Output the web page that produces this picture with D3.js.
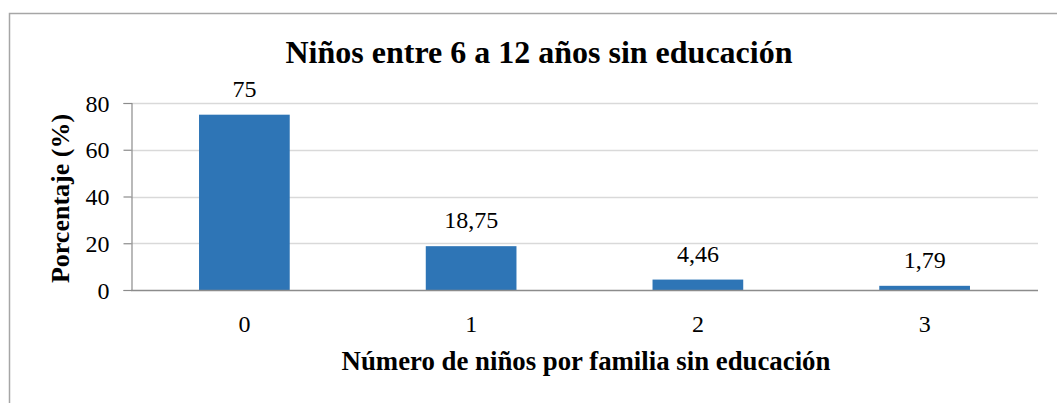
<!DOCTYPE html>
<html>
<head>
<meta charset="utf-8">
<script src="https://cdn.jsdelivr.net/npm/d3@7"></script>
<style>
  html, body { margin: 0; padding: 0; background: #fff; }
  svg { display: block; }
  text { font-family: "Liberation Serif", "Times New Roman", serif; fill: #000; }
</style>
</head>
<body>
<svg id="chart" width="1057" height="403"></svg>
<script>
// Porcentaje de familias según el número de niños (6 a 12 años) sin educación
const categories = ["0", "1", "2", "3"];
const values = [75, 18.75, 4.46, 1.79];
const valueLabels = ["75", "18,75", "4,46", "1,79"];
const yTicks = [0, 20, 40, 60, 80];

const chartTitle = "Niños entre 6 a 12 años sin educación";
const xTitle = "Número de niños por familia sin educación";
const yTitle = "Porcentaje (%)";

const W = 1057, H = 403;
const plot = { left: 131, right: 1038, top: 103, bottom: 290 };

const svg = d3.select("#chart");

// chart frame (only its top and left edges fall inside the image)
svg.append("path")
  .attr("d", `M9.5,${H + 5} V13.5 H${W + 5}`)
  .attr("fill", "none")
  .attr("stroke", "#a6a6a6")
  .attr("stroke-width", 1.5);

const x = d3.scaleBand()
  .domain(categories)
  .range([plot.left, plot.right])
  .paddingInner(0.6)
  .paddingOuter(0.3);

const y = d3.scaleLinear()
  .domain([0, 80])
  .range([plot.bottom, plot.top]);

// horizontal gridlines
svg.append("g")
  .selectAll("line")
  .data(yTicks.filter(d => d > 0))
  .join("line")
  .attr("x1", plot.left)
  .attr("x2", plot.right)
  .attr("y1", d => Math.round(y(d)) + 0.5)
  .attr("y2", d => Math.round(y(d)) + 0.5)
  .attr("stroke", "#d9d9d9")
  .attr("stroke-width", 1.5);

// bars
svg.append("g")
  .selectAll("rect")
  .data(values)
  .join("rect")
  .attr("x", (d, i) => x(categories[i]))
  .attr("width", x.bandwidth())
  .attr("y", d => y(d))
  .attr("height", d => y(0) - y(d))
  .attr("fill", "#2e75b6");

// value labels
svg.append("g")
  .selectAll("text")
  .data(values)
  .join("text")
  .attr("x", (d, i) => x(categories[i]) + x.bandwidth() / 2)
  .attr("y", d => y(d) - 18)
  .attr("text-anchor", "middle")
  .attr("font-size", 24)
  .text((d, i) => valueLabels[i]);

// y axis
const yAxis = svg.append("g")
  .attr("transform", `translate(${plot.left + 0.5},0)`)
  .call(d3.axisLeft(y).tickValues(yTicks).tickSize(8).tickPadding(14).tickFormat(d3.format("d")));
yAxis.select(".domain").attr("stroke", "#8c8c8c").attr("stroke-width", 1.2);
yAxis.selectAll(".tick line").attr("stroke", "#8c8c8c").attr("stroke-width", 1.2);
yAxis.selectAll(".tick text")
  .attr("font-family", "Liberation Serif, Times New Roman, serif")
  .attr("font-size", 24)
  .attr("fill", "#000")
  .attr("dy", "0.34em");

// x axis
const xAxis = svg.append("g")
  .attr("transform", `translate(0,${plot.bottom + 0.5})`)
  .call(d3.axisBottom(x).tickSize(0).tickPadding(24));
xAxis.select(".domain")
  .attr("d", `M${plot.left},0H${plot.right}`)
  .attr("stroke", "#8c8c8c")
  .attr("stroke-width", 1.5);
xAxis.selectAll(".tick text")
  .attr("font-family", "Liberation Serif, Times New Roman, serif")
  .attr("font-size", 24)
  .attr("fill", "#000")
  .attr("dy", "0.71em");

// titles
svg.append("text")
  .attr("x", 539)
  .attr("y", 63)
  .attr("text-anchor", "middle")
  .attr("font-size", 32)
  .attr("font-weight", "bold")
  .text(chartTitle);

svg.append("text")
  .attr("x", 586)
  .attr("y", 370)
  .attr("text-anchor", "middle")
  .attr("font-size", 26.8)
  .attr("font-weight", "bold")
  .text(xTitle);

svg.append("text")
  .attr("transform", `translate(69,${(plot.top + plot.bottom) / 2 + 2}) rotate(-90)`)
  .attr("text-anchor", "middle")
  .attr("font-size", 26)
  .attr("font-weight", "bold")
  .text(yTitle);
</script>
</body>
</html>
